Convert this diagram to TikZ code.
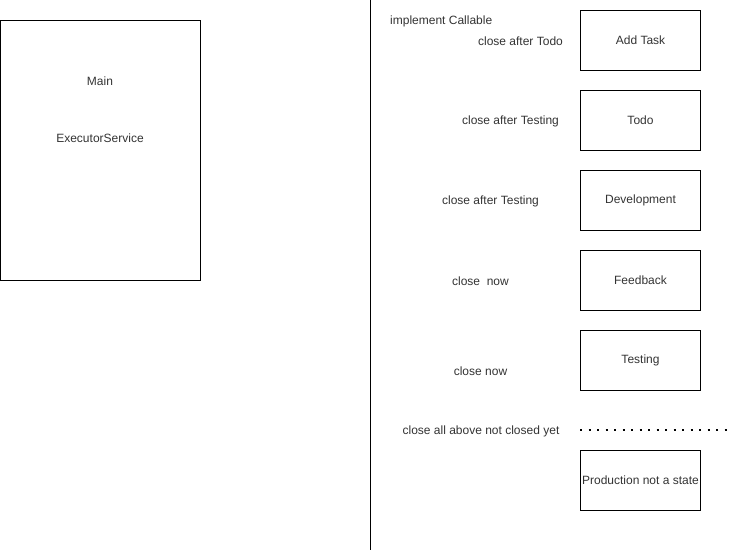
\documentclass[tikz,border=0pt]{standalone}
\usepackage{fontspec}
\setmainfont{Liberation Sans}
\begin{document}
\begin{tikzpicture}[x=1pt,y=-1pt,
  box/.style={draw=black,line width=1pt,minimum width=120pt,minimum height=60pt,inner sep=0pt,anchor=north west,font=\fontsize{12}{14}\selectfont,text=black!80},
  lbl/.style={inner sep=0pt,font=\fontsize{12}{14}\selectfont,text=black!80}]
\useasboundingbox (0,0) rectangle (733,553);
\node[box,minimum width=200pt,minimum height=260pt] (main) at (0,20) {};
\node[lbl] (mainlbl) at (100,81) {Main};
\node[lbl] (exec) at (100,138) {ExecutorService};
\coordinate (vtop) at (370.5,0);
\coordinate (vbot) at (370.5,550);
\draw[line width=1pt] (vtop) -- (vbot);
\node[box] (add) at (580,10) {Add Task};
\node[box] (todo) at (580,90) {Todo};
\node[box] (dev) at (580,170) {Development};
\node[box] (feed) at (580,250) {Feedback};
\node[box] (test) at (580,330) {Testing};
\node[box] (prod) at (580,450) {Production not a state};
\node[lbl,anchor=west] (impl) at (390,21) {implement Callable};
\node[lbl] (l1) at (520.5,41.5) {close after Todo};
\node[lbl] (l2) at (510.5,121) {close after Testing};
\node[lbl] (l3) at (490.5,201) {close after Testing};
\node[lbl] (l4) at (480.5,281) {close\ \ now};
\node[lbl] (l5) at (480.5,371) {close now};
\node[lbl] (l6) at (481,431) {close all above not closed yet};
\coordinate (ds) at (580,430);
\coordinate (de) at (728,430);
\draw[line width=2pt,dash pattern=on 2pt off 6.5pt,dash phase=0pt] (ds) -- (de);
\end{tikzpicture}
\end{document}
